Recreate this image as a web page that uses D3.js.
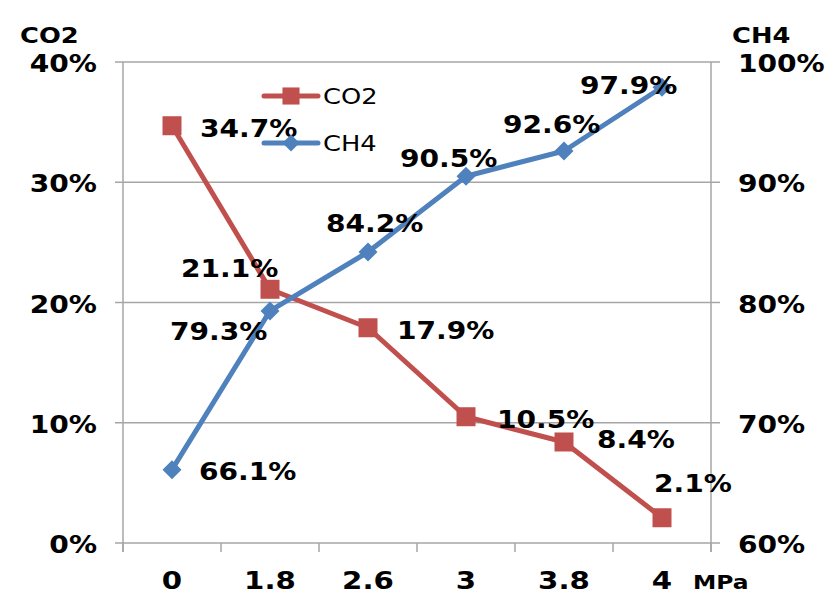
<!doctype html>
<html>
  <head>
    <meta charset="utf-8" />
    <title>CO2 / CH4</title>
    <style>
      body { margin: 0; background: #fff; }
      svg { display: block; }
      text { font-family: "DejaVu Sans", Verdana, sans-serif; fill: #000; }
      .bold { font-weight: bold; }
    </style>
  </head>
  <body>
    <svg id="chart"></svg>
    <script src="https://d3js.org/d3.v7.min.js"></script>
    <script>
      // data
      const pressures = ["0", "1.8", "2.6", "3", "3.8", "4"];
      const co2 = [34.7, 21.1, 17.9, 10.5, 8.4, 2.1];
      const ch4 = [66.1, 79.3, 84.2, 90.5, 92.6, 97.9];
      const leftTicks = [0, 10, 20, 30, 40];
      const rightTicks = [60, 70, 80, 90, 100];

      // where each data label sits relative to its point (dx, dy)
      const co2LabelPos = [[28, 11], [-89, -12], [29, 11], [31, 11], [33, 6], [-8, -26]];
      const ch4LabelPos = [[27, 10], [-100, 29], [-42, -20], [-66, -9], [-61, -18], [-82, 7]];

      const width = 826, height = 596;
      const margin = { left: 123, right: 115, top: 62, bottom: 53 };
      const red = "#C0504D", blue = "#4F81BD", grid = "#A6A6A6";
      const stretch = 1.17; // the reference type is set wide

      const svg = d3.select("#chart").attr("width", width).attr("height", height);

      const x = d3.scaleBand().domain(pressures)
        .range([margin.left, width - margin.right]);
      const yL = d3.scaleLinear().domain([0, 40]).range([height - margin.bottom, margin.top]);
      const yR = d3.scaleLinear().domain([60, 100]).range([height - margin.bottom, margin.top]);
      const cx = (d, i) => x(pressures[i]) + x.bandwidth() / 2;

      // place text with a horizontal stretch around its anchor
      const place = (px, py) => `translate(${px},${py}) scale(${stretch},1)`;

      // gridlines
      svg.append("g")
        .selectAll("line")
        .data(leftTicks)
        .join("line")
        .attr("x1", margin.left - 8)
        .attr("x2", width - margin.right + 9)
        .attr("y1", (d) => yL(d))
        .attr("y2", (d) => yL(d))
        .attr("stroke", grid)
        .attr("stroke-width", 1.5);

      // vertical axis lines
      [margin.left, width - margin.right].forEach((px) => {
        svg.append("line")
          .attr("x1", px).attr("x2", px)
          .attr("y1", margin.top).attr("y2", height - margin.bottom + 9)
          .attr("stroke", grid).attr("stroke-width", 1.5);
      });

      // category tick marks on the x axis
      const bounds = pressures.map((p) => x(p)).concat([width - margin.right]);
      svg.append("g")
        .selectAll("line")
        .data(bounds)
        .join("line")
        .attr("x1", (d) => d).attr("x2", (d) => d)
        .attr("y1", height - margin.bottom)
        .attr("y2", height - margin.bottom + 9)
        .attr("stroke", grid).attr("stroke-width", 1.5);

      // tick labels
      svg.append("g")
        .selectAll("text")
        .data(leftTicks)
        .join("text")
        .attr("class", "bold")
        .attr("transform", (d) => place(97, yL(d) + 10))
        .attr("text-anchor", "end")
        .style("font-size", "24px")
        .text((d) => d + "%");

      svg.append("g")
        .selectAll("text")
        .data(rightTicks)
        .join("text")
        .attr("class", "bold")
        .attr("transform", (d) => place(738, yR(d) + 10))
        .style("font-size", "24px")
        .text((d) => d + "%");

      svg.append("g")
        .selectAll("text")
        .data(pressures)
        .join("text")
        .attr("class", "bold")
        .attr("transform", (d) => place(x(d) + x.bandwidth() / 2, 589))
        .attr("text-anchor", "middle")
        .style("font-size", "25px")
        .text((d) => d);

      svg.append("text").attr("class", "bold").attr("transform", place(693, 589))
        .style("font-size", "20px").text("MPa");
      svg.append("text").attr("class", "bold").attr("transform", place(20, 43))
        .style("font-size", "22px").text("CO2");
      svg.append("text").attr("class", "bold").attr("transform", place(732, 43))
        .style("font-size", "22px").text("CH4");

      // series lines
      const co2Line = d3.line().x(cx).y((d) => yL(d));
      const ch4Line = d3.line().x(cx).y((d) => yR(d));

      svg.append("path").datum(co2).attr("d", co2Line)
        .attr("fill", "none").attr("stroke", red).attr("stroke-width", 5)
        .attr("stroke-linejoin", "round");
      svg.append("path").datum(ch4).attr("d", ch4Line)
        .attr("fill", "none").attr("stroke", blue).attr("stroke-width", 5)
        .attr("stroke-linejoin", "round");

      const square = d3.symbol().type(d3.symbolSquare).size(19 * 19);
      const diamond = d3.symbol().type(d3.symbolDiamond2).size(230);

      svg.append("g")
        .selectAll("path")
        .data(co2)
        .join("path")
        .attr("d", square)
        .attr("transform", (d, i) => `translate(${cx(d, i)},${yL(d)})`)
        .attr("fill", red);

      svg.append("g")
        .selectAll("path")
        .data(ch4)
        .join("path")
        .attr("d", diamond)
        .attr("transform", (d, i) => `translate(${cx(d, i)},${yR(d)})`)
        .attr("fill", blue);

      // data labels
      svg.append("g")
        .selectAll("text")
        .data(co2)
        .join("text")
        .attr("class", "bold")
        .attr("transform", (d, i) => place(cx(d, i) + co2LabelPos[i][0], yL(d) + co2LabelPos[i][1]))
        .style("font-size", "24px")
        .text((d) => d.toFixed(1) + "%");

      svg.append("g")
        .selectAll("text")
        .data(ch4)
        .join("text")
        .attr("class", "bold")
        .attr("transform", (d, i) => place(cx(d, i) + ch4LabelPos[i][0], yR(d) + ch4LabelPos[i][1]))
        .style("font-size", "24px")
        .text((d) => d.toFixed(1) + "%");

      // legend
      const legend = svg.append("g");
      [
        { name: "CO2", color: red, sym: square, y: 96 },
        { name: "CH4", color: blue, sym: diamond, y: 143 },
      ].forEach((s) => {
        legend.append("line")
          .attr("x1", 264).attr("x2", 318)
          .attr("y1", s.y).attr("y2", s.y)
          .attr("stroke", s.color).attr("stroke-width", 5)
          .attr("stroke-linecap", "round");
        legend.append("path")
          .attr("d", s.sym)
          .attr("transform", `translate(291,${s.y}) scale(0.9)`)
          .attr("fill", s.color);
        legend.append("text")
          .attr("transform", place(323, s.y + 8))
          .style("font-size", "22px")
          .text(s.name);
      });
    </script>
  </body>
</html>
